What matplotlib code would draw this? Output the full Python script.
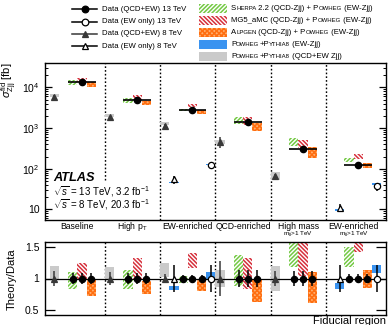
import re
import numpy as np
import matplotlib
matplotlib.use("Agg")
import matplotlib.pyplot as plt
import matplotlib.transforms as mtransforms
from matplotlib.patches import Rectangle
from matplotlib.offsetbox import TextArea, HPacker, AnchoredOffsetbox
from matplotlib.ticker import FixedLocator, FixedFormatter, LogLocator, NullFormatter

FAM = ['Liberation Sans', 'DejaVu Sans']
plt.rcParams['font.family'] = FAM
plt.rcParams['mathtext.fontset'] = 'custom'
plt.rcParams['mathtext.rm'] = 'Liberation Sans'
plt.rcParams['mathtext.it'] = 'Liberation Sans:italic'
plt.rcParams['mathtext.bf'] = 'Liberation Sans:bold'
plt.rcParams['hatch.linewidth'] = 1.1

# ---------------- data ----------------
regions = ["Baseline", r"High p$_\mathregular{T}$", "EW-enriched", "QCD-enriched",
           "High mass", "EW-enriched"]
region_sub = ["", "", "", "", r"m$_\mathregular{jj}$>1 TeV", r"m$_\mathregular{jj}$>1 TeV"]

nan = np.nan
# 13 TeV QCD+EW fiducial cross sections [fb] and relative uncertainty
data13 = np.array([14000, 4900, 2800, 1400, 310, 124])
data13_rel = np.array([0.09, 0.08, 0.06, 0.13, 0.12, 0.07])
# 8 TeV QCD+EW
data8 = np.array([5900, 1850, 1150, 460, 68, nan])
data8_rel = np.array([0.12, 0.10, 0.07, 0.28, 0.12, nan])
# EW-only 13 TeV and 8 TeV
ew13 = np.array([nan, nan, 122, nan, nan, 37])
ew13_rel = np.array([nan, nan, 0.21, nan, nan, 0.21])
ew8 = np.array([nan, nan, 55, nan, nan, 10.9])
ew8_rel = np.array([nan, nan, 0.21, nan, nan, 0.22])

# Theory/Data ranges (low, high)
sherpa_lo = np.array([0.83, 0.83, 0.93, 0.88, 1.19, 1.19])
sherpa_hi = np.array([1.10, 1.14, 1.04, 1.37, 1.82, 1.50])
mg5_lo = np.array([0.98, 0.98, 1.17, 0.83, 1.04, 1.42])
mg5_hi = np.array([1.25, 1.33, 1.41, 1.33, 1.68, 1.85])
alpgen_lo = np.array([0.72, 0.75, 0.80, 0.62, 0.61, 0.85])
alpgen_hi = np.array([0.97, 0.96, 0.97, 0.98, 1.11, 1.14])
ppqcd8_lo = np.array([1.00, 1.00, 1.02, 0.87, 0.80, nan])
ppqcd8_hi = np.array([1.20, 1.19, 1.25, 1.14, 1.20, nan])
ppew13_lo = np.array([nan, nan, 1.00, nan, nan, 1.08])
ppew13_hi = np.array([nan, nan, 1.10, nan, nan, 1.21])
ppew8_lo = np.array([nan, nan, 0.82, nan, nan, 0.84])
ppew8_hi = np.array([nan, nan, 0.88, nan, nan, 0.93])

legend_data = ["Data (QCD+EW) 13 TeV", "Data (EW only) 13 TeV",
               "Data (QCD+EW) 8 TeV", "Data (EW only) 8 TeV"]
legend_mc = ["S{HERPA} 2.2 (QCD-Zjj) + P{OWHEG} (EW-Zjj)",
             "MG5_aMC (QCD-Zjj) + P{OWHEG} (EW-Zjj)",
             "A{LPGEN} (QCD-Zjj) + P{OWHEG} (EW-Zjj)",
             "P{OWHEG}+P{YTHIA8} (EW-Zjj)",
             "P{OWHEG}+P{YTHIA8} (QCD+EW Zjj)"]

# ---------------- styles ----------------
STY = {
    'sherpa': dict(facecolor='none', edgecolor='#74c944', hatch='////////', linewidth=0),
    'mg5': dict(facecolor='none', edgecolor='#d6303c', hatch='\\\\\\\\\\\\\\\\', linewidth=0),
    'alpgen': dict(facecolor='#ffb070', edgecolor='#ff6e10', hatch='xxxxxxx', linewidth=0),
    'ppew': dict(facecolor='#3a93f0', edgecolor='none', linewidth=0),
    'ppqcd': dict(facecolor='#cacaca', edgecolor='none', linewidth=0),
}
TRI = '#383838'

W, H = 390, 325
fig = plt.figure(figsize=(W / 100, H / 100), dpi=100)


def rect(l, t, r, b):
    return [l / W, 1 - b / H, (r - l) / W, (b - t) / H]


ax = fig.add_axes(rect(45, 63, 386, 220))
rax = fig.add_axes(rect(45, 242, 386, 315))
ov = fig.add_axes([0, 0, 1, 1])
ov.set_xlim(0, W)
ov.set_ylim(H, 0)
ov.axis('off')
ov.patch.set_visible(False)

n = len(regions)
idx = np.arange(n)
SW = 1 / 6


def slot(k):
    return idx + (k + 0.5) * SW


def boxes(axis, k, lo, hi, scale, style):
    lo = lo * scale
    hi = hi * scale
    m = np.isfinite(lo) & np.isfinite(hi)
    axis.bar(slot(k)[m], (hi - lo)[m], bottom=lo[m], width=SW, align='center',
             zorder=2, **STY[style])


def points(axis, k, y, rel, marker, mfc, color='k', ms=4.5):
    m = np.isfinite(y)
    axis.errorbar(slot(k)[m], y[m], yerr=(y * rel)[m], fmt=marker, color=color,
                  mfc=mfc, mec=color, ms=ms, lw=1.1, capsize=0, zorder=5, mew=0.9)


# ---------------- main panel ----------------
boxes(ax, 0, ppqcd8_lo, ppqcd8_hi, data8, 'ppqcd')
boxes(ax, 1, ppew8_lo, ppew8_hi, ew8, 'ppew')
boxes(ax, 5, ppew13_lo, ppew13_hi, ew13, 'ppew')
boxes(ax, 2, sherpa_lo, sherpa_hi, data13, 'sherpa')
boxes(ax, 3, mg5_lo, mg5_hi, data13, 'mg5')
boxes(ax, 4, alpgen_lo, alpgen_hi, data13, 'alpgen')

ax.errorbar(slot(3), data13, xerr=1.5 * SW, yerr=data13 * data13_rel, fmt='o', color='k',
            ms=4.5, lw=1.2, capsize=0, zorder=5)
points(ax, 0, data8, data8_rel, '^', TRI, color=TRI, ms=5)
points(ax, 1, ew8, ew8_rel, '^', 'white', ms=5)
points(ax, 5, ew13, ew13_rel, 'o', 'white')

ax.set_yscale('log')
ax.set_ylim(5.5, 4e4)
ax.set_xlim(-0.086, n + 0.086)
ax.set_xticks([])
ax.yaxis.set_major_locator(FixedLocator([10, 100, 1000, 10000]))
ax.yaxis.set_major_formatter(FixedFormatter(['10', r'10$^2$', r'10$^3$', r'10$^4$']))
ax.yaxis.set_minor_locator(LogLocator(base=10, subs=np.arange(2, 10), numticks=20))
ax.yaxis.set_minor_formatter(NullFormatter())
ax.tick_params(axis='y', which='both', direction='in', left=True, right=True, labelsize=7.5, pad=4)
ax.tick_params(axis='y', which='major', length=5, width=0.9)
ax.tick_params(axis='y', which='minor', length=2.5, width=0.7)

for k in range(1, n):
    ax.axvline(k, ymin=0.255 if k == 1 else 0, ymax=1, color='k', ls=(0, (1.2, 1.5)), lw=1.0, zorder=1)

blend = mtransforms.blended_transform_factory(ax.transData, ax.transAxes)
for i in range(n):
    ax.text(i + 0.5, -0.043, regions[i], transform=blend, ha='center', va='center',
            fontsize=6.2, clip_on=False)
    if region_sub[i]:
        ax.text(i + 0.5, -0.097, region_sub[i], transform=blend, ha='center', va='center',
                fontsize=4.6, clip_on=False)

# ---------------- ratio panel ----------------
ones = np.ones(n)
boxes(rax, 0, ppqcd8_lo, ppqcd8_hi, ones, 'ppqcd')
boxes(rax, 1, ppew8_lo, ppew8_hi, ones, 'ppew')
boxes(rax, 5, ppew13_lo, ppew13_hi, ones, 'ppew')
boxes(rax, 2, sherpa_lo, sherpa_hi, ones, 'sherpa')
boxes(rax, 3, mg5_lo, mg5_hi, ones, 'mg5')
boxes(rax, 4, alpgen_lo, alpgen_hi, ones, 'alpgen')
rax.axhline(1, color='k', lw=0.9, zorder=3)
for k in (2, 3, 4):
    points(rax, k, ones, data13_rel, 'o', 'k')
points(rax, 0, np.where(np.isfinite(data8), 1.0, nan), data8_rel, '^', TRI, color=TRI, ms=5)
points(rax, 1, np.where(np.isfinite(ew8), 1.0, nan), ew8_rel, '^', 'white', ms=5)
points(rax, 5, np.where(np.isfinite(ew13), 1.0, nan), ew13_rel, 'o', 'white')
for k in range(1, n):
    rax.axvline(k, color='k', ls=(0, (1.2, 1.5)), lw=1.0, zorder=1)

rax.set_xlim(-0.086, n + 0.086)
rax.set_ylim(0.42, 1.58)
rax.set_xticks([])
rax.set_yticks([0.5, 1.0, 1.5])
rax.set_yticklabels(['0.5', '1', '1.5'])
rax.tick_params(axis='y', which='major', direction='in', left=True, right=True,
                length=7, width=0.9, labelsize=7.5, pad=4)

for a in (ax, rax):
    for s in a.spines.values():
        s.set_linewidth(1.0)

# ---------------- labels ----------------
ov.text(9, 62, r'$\sigma^{\mathrm{fid}}_{\mathrm{Zjj}}$ [fb]', rotation=90, ha='center',
        va='top', fontsize=8)
ov.text(11.5, 279, 'Theory/Data', rotation=90, ha='center', va='center', fontsize=8)
ov.text(386, 323.5, 'Fiducial region', ha='right', va='baseline', fontsize=8)

ov.text(53, 178, 'ATLAS', fontsize=9.2, fontweight='bold', fontstyle='italic', va='center')
ov.text(53, 191.5, r'$\sqrt{s}$ = 13 TeV, 3.2 fb$^{-1}$', fontsize=7, va='center')
ov.text(53, 205, r'$\sqrt{s}$ = 8 TeV, 20.3 fb$^{-1}$', fontsize=7, va='center')

# ---------------- legend ----------------
LFS = 5.6
left_rows = [9.3, 21.7, 33.6, 46]
left_mk = [('o', 'k', 'k'), ('o', 'white', 'k'), ('^', TRI, TRI), ('^', 'white', 'k')]
for y, lab, (mk, fc, ec) in zip(left_rows, legend_data, left_mk):
    ov.plot([72, 97], [y, y], color=ec, lw=1.1)
    ov.plot([84.5], [y], marker=mk, mfc=fc, mec=ec, ms=4.8, mew=0.9, ls='none')
    ov.text(102.5, y, lab, fontsize=LFS, va='center', ha='left')

right_rows = [8, 20.2, 32.2, 44.2, 56.6]
right_sty = ['sherpa', 'mg5', 'alpgen', 'ppew', 'ppqcd']


def parse_sc(s):
    parts = re.split(r'(\{[^}]*\})', s)
    out = []
    for p in parts:
        if not p:
            continue
        if p.startswith('{'):
            out.append([p[1:-1], True])
        else:
            out.append([p, False])
    # move trailing spaces to next piece (trailing spaces are not measured)
    for i in range(len(out) - 1):
        t = out[i][0]
        st = t.rstrip(' ')
        if st != t:
            out[i][0] = st
            out[i + 1][0] = ' ' * (len(t) - len(st)) + out[i + 1][0]
    return out


for y, lab, st in zip(right_rows, legend_mc, right_sty):
    ov.add_patch(Rectangle((199, y - 4.5), 28, 9, **STY[st]))
    kids = []
    for txt, small in parse_sc(lab):
        kids.append(TextArea(txt, textprops=dict(fontsize=LFS * 0.78 if small else LFS, family=FAM)))
    pack = HPacker(children=kids, align='baseline', pad=0, sep=0)
    ab = AnchoredOffsetbox(loc='center left', child=pack, pad=0, borderpad=0, frameon=False,
                           bbox_to_anchor=(231, y), bbox_transform=ov.transData)
    ov.add_artist(ab)

fig.savefig('out.png', dpi=100)
